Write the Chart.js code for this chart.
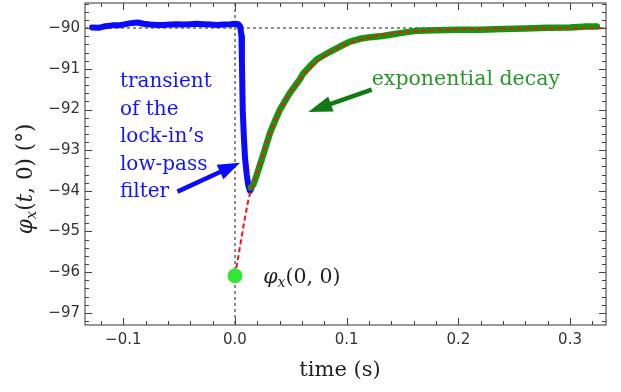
<!DOCTYPE html>
<html>
<head>
<meta charset="utf-8">
<script src="https://cdn.jsdelivr.net/npm/chart.js@4"></script>
<style>
  html, body { margin: 0; padding: 0; background: #fff; }
  #wrap { width: 621px; height: 392px; }
</style>
</head>
<body>
<div id="wrap"><canvas id="phaseChart" width="621" height="392"></canvas></div>
<script>
// measured phase before the step (lock-in low-pass transient)
const blueT = [-0.128, -0.122, -0.116, -0.11, -0.104, -0.098, -0.092, -0.087, -0.082, -0.076, -0.07, -0.064,
  -0.058, -0.052, -0.046, -0.04, -0.034, -0.028, -0.022, -0.016, -0.01, -0.004, 0.0, 0.003, 0.0048,
  0.0058, 0.0062, 0.0069, 0.008, 0.009, 0.0105, 0.012, 0.0134, 0.0145];
const blueV = [-89.98, -89.99, -89.95, -89.93, -89.93, -89.90, -89.87, -89.86, -89.89, -89.91, -89.92, -89.92,
  -89.91, -89.90, -89.91, -89.90, -89.89, -89.90, -89.91, -89.92, -89.91, -89.90, -89.89, -89.90, -89.96,
  -90.2, -90.8, -92.0, -92.7, -93.2, -93.6, -93.88, -94.0, -93.96];

// measured phase after the step (exponential decay)
const greenT = [0.0143, 0.0164, 0.0195, 0.0224, 0.026, 0.0313, 0.036, 0.0403, 0.045, 0.0492, 0.054, 0.0582,
  0.0609, 0.067, 0.0732, 0.0761, 0.085, 0.094, 0.103, 0.112, 0.121, 0.13, 0.139, 0.148, 0.163, 0.18,
  0.2, 0.22, 0.24, 0.26, 0.28, 0.3, 0.315, 0.324];
const greenV = [-93.92, -93.85, -93.61, -93.36, -93.05, -92.58, -92.27, -92.0, -91.78, -91.59, -91.41, -91.25,
  -91.12, -90.94, -90.77, -90.72, -90.58, -90.45, -90.33, -90.26, -90.22, -90.2, -90.16, -90.12, -90.06, -90.05,
  -90.04, -90.04, -90.02, -90.01, -89.99, -89.98, -89.96, -89.96];

// exponential fit, extrapolated back to t = 0
const fitT = [0, 0.004, 0.008, 0.0125, 0.0164, 0.0224, 0.0313, 0.0403, 0.0492, 0.0582, 0.067, 0.0761,
  0.085, 0.094, 0.103, 0.112, 0.121, 0.13, 0.148, 0.165, 0.185, 0.21, 0.24, 0.27, 0.3, 0.335];
const fitV = [-96.09, -95.45, -94.8, -94.17, -93.83, -93.33, -92.6, -92.02, -91.59, -91.26, -90.98, -90.76,
  -90.59, -90.46, -90.36, -90.28, -90.22, -90.17, -90.11, -90.07, -90.04, -90.02, -90.01, -90.01, -90.0, -90.0];

// extrapolated start value
const startT = [0];
const startV = [-96.09];

const xTicks = [-0.1, 0, 0.1, 0.2, 0.3];
const xTickLabels = ['\u22120.1', '0.0', '0.1', '0.2', '0.3'];
const yTicks = [-97, -96, -95, -94, -93, -92, -91, -90];
const yTickLabels = ['\u221297', '\u221296', '\u221295', '\u221294', '\u221293', '\u221292', '\u221291', '\u221290'];

const xMin = -0.1343, xMax = 0.3322;
const yMin = -97.3, yMax = -89.38;

const toPoints = (ts, vs) => ts.map((t, i) => ({ x: t, y: vs[i] }));

const SERIF = '"DejaVu Serif", serif';

function richWidth(ctx, parts, size) {
  let w = 0;
  parts.forEach(p => {
    ctx.font = (p.it ? 'italic ' : '') + (p.sub ? Math.round(size * 0.7) : size) + 'px ' + SERIF;
    w += ctx.measureText(p.s).width;
  });
  return w;
}

function drawRich(ctx, parts, x, y, size) {
  parts.forEach(p => {
    ctx.font = (p.it ? 'italic ' : '') + (p.sub ? Math.round(size * 0.7) : size) + 'px ' + SERIF;
    ctx.fillText(p.s, x, p.sub ? y + 4 : y);
    x += ctx.measureText(p.s).width;
  });
}

function drawArrow(ctx, x0, y0, x1, y1, color, headLen, headHalf) {
  const ang = Math.atan2(y1 - y0, x1 - x0);
  const bx = x1 - headLen * Math.cos(ang), by = y1 - headLen * Math.sin(ang);
  ctx.strokeStyle = color;
  ctx.fillStyle = color;
  ctx.lineWidth = 4.5;
  ctx.lineCap = 'butt';
  ctx.beginPath();
  ctx.moveTo(x0, y0);
  ctx.lineTo(bx + 3 * Math.cos(ang), by + 3 * Math.sin(ang));
  ctx.stroke();
  ctx.beginPath();
  ctx.moveTo(x1, y1);
  ctx.lineTo(bx - headHalf * Math.sin(ang), by + headHalf * Math.cos(ang));
  ctx.lineTo(bx + headHalf * Math.sin(ang), by - headHalf * Math.cos(ang));
  ctx.closePath();
  ctx.fill();
}

const inkPlugin = {
  id: 'ink',
  afterDatasetsDraw(chart) {
    const { ctx, chartArea: a, scales: { x, y } } = chart;
    ctx.save();

    // frame
    ctx.strokeStyle = '#555';
    ctx.lineWidth = 1.2;
    ctx.strokeRect(a.left, a.top, a.right - a.left, a.bottom - a.top);

    // major and minor ticks on all four sides, pointing inwards
    ctx.strokeStyle = '#444';
    ctx.lineWidth = 1;
    for (let k = -10; k <= 20; k++) {
      const v = k * 0.02;
      if (v < xMin || v > xMax) continue;
      const px = Math.round(x.getPixelForValue(v)) + 0.5;
      const len = k % 5 === 0 ? 7 : 4;
      ctx.beginPath();
      ctx.moveTo(px, a.bottom); ctx.lineTo(px, a.bottom - len);
      ctx.moveTo(px, a.top); ctx.lineTo(px, a.top + len);
      ctx.stroke();
    }
    for (let k = 0; k <= 50; k++) {
      const v = -98 + k * 0.2;
      if (v < yMin || v > yMax) continue;
      const py = Math.round(y.getPixelForValue(v)) + 0.5;
      const len = k % 5 === 0 ? 7 : 4;
      ctx.beginPath();
      ctx.moveTo(a.left, py); ctx.lineTo(a.left + len, py);
      ctx.moveTo(a.right, py); ctx.lineTo(a.right - len, py);
      ctx.stroke();
    }

    // annotations
    ctx.textBaseline = 'alphabetic';
    ctx.textAlign = 'left';
    ctx.fillStyle = '#1414ff';
    ctx.font = '20px ' + SERIF;
    const bx = x.getPixelForValue(-0.103), by = y.getPixelForValue(-91.45);
    ['transient', 'of the', 'lock-in\u2019s', 'low-pass', 'filter'].forEach((s, i) => {
      ctx.fillText(s, bx, by + i * 27.5);
    });
    drawArrow(ctx, x.getPixelForValue(-0.0515), y.getPixelForValue(-94.02),
      x.getPixelForValue(0.0045), y.getPixelForValue(-93.31), '#0a0aff', 22, 8);

    ctx.fillStyle = '#2a962a';
    ctx.font = '20.5px ' + SERIF;
    ctx.fillText('exponential decay', x.getPixelForValue(0.1224), y.getPixelForValue(-91.39));
    drawArrow(ctx, x.getPixelForValue(0.1224), y.getPixelForValue(-91.51),
      x.getPixelForValue(0.0656), y.getPixelForValue(-92.06), '#127a12', 24, 8);

    ctx.fillStyle = '#222';
    drawRich(ctx, [{ s: '\u03c6', it: true }, { s: 'x', it: true, sub: true }, { s: '(0, 0)' }],
      x.getPixelForValue(0.0253), y.getPixelForValue(-96.27), 20.5);

    // axis titles
    ctx.font = '21px ' + SERIF;
    ctx.textAlign = 'center';
    ctx.fillText('time (s)', 340, 376);

    ctx.textAlign = 'left';
    const yParts = [{ s: '\u03c6', it: true }, { s: 'x', it: true, sub: true }, { s: '(' },
      { s: 't', it: true }, { s: ', 0) (\u00b0)' }];
    ctx.translate(32, 179);
    ctx.rotate(-Math.PI / 2);
    drawRich(ctx, yParts, -richWidth(ctx, yParts, 21.5) / 2, 0, 21.5);
    ctx.restore();
  }
};

const gridColor = (target) => (ctx) =>
  ctx.tick && ctx.tick.value === target ? '#8c8c8c' : 'rgba(0,0,0,0)';

const tickFont = { family: '"DejaVu Sans"', size: 15 };

new Chart(document.getElementById('phaseChart'), {
  type: 'line',
  data: {
    datasets: [
      {
        data: toPoints(blueT, blueV),
        borderColor: '#0a0aff',
        borderWidth: 6,
        pointRadius: 0,
        borderJoinStyle: 'round',
        borderCapStyle: 'round',
        order: 4,
      },
      {
        data: toPoints(greenT, greenV),
        borderColor: '#109a10',
        borderWidth: 6.5,
        pointRadius: 0,
        borderJoinStyle: 'round',
        borderCapStyle: 'round',
        order: 3,
      },
      {
        data: toPoints(fitT, fitV),
        borderColor: '#ff1010',
        borderWidth: 2,
        borderDash: [5, 3],
        pointRadius: 0,
        cubicInterpolationMode: 'monotone',
        order: 2,
      },
      {
        data: toPoints(startT, startV),
        showLine: false,
        pointRadius: 7.5,
        pointBackgroundColor: '#33e633',
        pointBorderWidth: 0,
        order: 1,
      },
    ],
  },
  options: {
    responsive: false,
    devicePixelRatio: 1,
    animation: false,
    events: [],
    layout: { autoPadding: false, padding: { top: 3, right: 15, left: 0, bottom: 0 } },
    scales: {
      x: {
        type: 'linear',
        min: xMin,
        max: xMax,
        afterBuildTicks: (axis) => { axis.ticks = xTicks.map(v => ({ value: v })); },
        afterFit: (scale) => { scale.height = 67; scale.paddingLeft = 0; scale.paddingRight = 0; },
        ticks: {
          callback: (v, i) => xTickLabels[i],
          font: tickFont,
          color: '#333',
          padding: 6,
          maxRotation: 0,
          autoSkip: false,
        },
        grid: { drawTicks: false, color: gridColor(0), lineWidth: 2 },
        border: { display: false, dash: [3, 3] },
      },
      y: {
        type: 'linear',
        min: yMin,
        max: yMax,
        afterBuildTicks: (axis) => { axis.ticks = yTicks.map(v => ({ value: v })); },
        afterFit: (scale) => { scale.width = 85; scale.paddingTop = 0; scale.paddingBottom = 0; },
        ticks: {
          callback: (v, i) => yTickLabels[i],
          font: tickFont,
          color: '#333',
          padding: 5,
          autoSkip: false,
        },
        grid: { drawTicks: false, color: gridColor(-90), lineWidth: 2 },
        border: { display: false, dash: [3, 3] },
      },
    },
    plugins: {
      legend: { display: false },
      tooltip: { enabled: false },
    },
  },
  plugins: [inkPlugin],
});
</script>
</body>
</html>
